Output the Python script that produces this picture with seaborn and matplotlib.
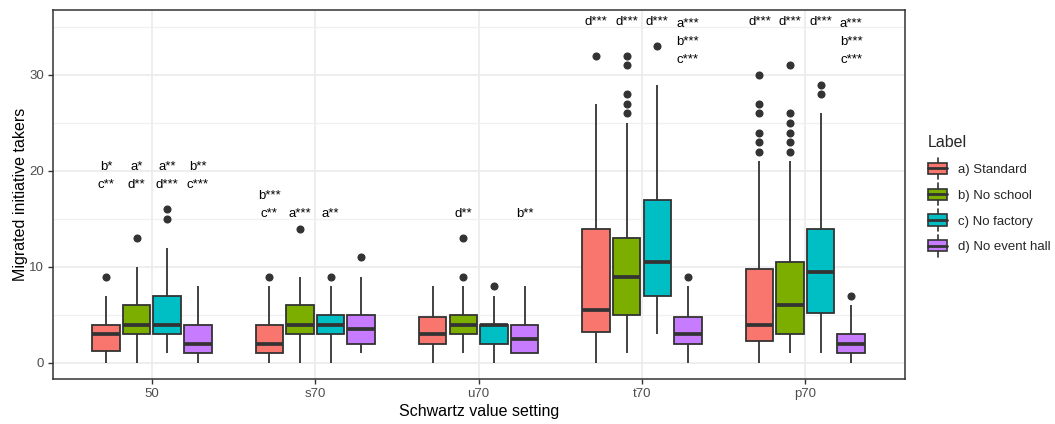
import numpy as np
import pandas as pd
import matplotlib
matplotlib.use("Agg")
import matplotlib.pyplot as plt
import seaborn as sns
from matplotlib.patches import Patch, Rectangle
from matplotlib.lines import Line2D
from matplotlib.legend_handler import HandlerBase
from matplotlib.ticker import MultipleLocator

# --- Data (one row per setting, one column per label) ---
settings = ['50', 's70', 'u70', 't70', 'p70']
labels = ['a) Standard', 'b) No school', 'c) No factory', 'd) No event hall']
colors = ['#F8766D', '#7CAE00', '#00BFC4', '#C77CFF']

whisker_lo = [[0, 0, 1, 0], [0, 0, 0, 1], [0, 1, 0, 1], [0, 1, 3, 0], [0, 1, 1, 0]]
q1 = [[1.25, 3, 3, 1], [1, 3, 3, 2], [2, 3, 2, 1], [3.25, 5, 7, 2], [2.25, 3, 5.25, 1]]
median = [[3, 4, 4, 2], [2, 4, 4, 3.5], [3, 4, 4, 2.5], [5.5, 9, 10.5, 3], [4, 6, 9.5, 2]]
q3 = [[4, 6, 7, 4], [4, 6, 5, 5], [4.75, 5, 4, 4], [14, 13, 17, 4.75], [9.75, 10.5, 14, 3]]
whisker_hi = [[7, 10, 12, 8], [8, 9, 8, 9], [8, 8, 7, 8], [27, 25, 29, 8], [21, 21, 26, 6]]
outliers = [
    [[9], [13], [15, 16], []],
    [[9], [14], [9], [11]],
    [[], [9, 13], [8], []],
    [[32], [26, 27, 28, 31, 32], [33], [9]],
    [[22, 23, 24, 26, 27, 30], [22, 23, 24, 25, 26, 31], [28, 29], [7]],
]

# significance letters printed above each box
sig_text = [
    ['b*\nc**', 'a*\nd**', 'a**\nd***', 'b**\nc***'],
    ['b***\nc**', 'a***', 'a**', ''],
    ['', 'd**', '', 'b**'],
    ['d***', 'd***', 'd***', 'a***\nb***\nc***'],
    ['d***', 'd***', 'd***', 'a***\nb***\nc***'],
]
# y of the lowest text line (data units)
sig_y = [
    [18.55, 18.55, 18.55, 18.55],
    [15.5, 15.5, 15.5, 15.5],
    [15.5, 15.5, 15.5, 15.5],
    [35.5, 35.5, 35.5, 31.55],
    [35.5, 35.5, 35.5, 31.55],
]


def box_sample(lo, a, m, b, hi, out):
    """Smallest sorted sample whose quartiles/whiskers equal the read values."""
    k = len(out) + 1
    return [lo] + [a] * k + [m] * k + [b] * k + [hi] + list(out)


rows = []
for i, s in enumerate(settings):
    for j, lab in enumerate(labels):
        vals = box_sample(whisker_lo[i][j], q1[i][j], median[i][j], q3[i][j],
                          whisker_hi[i][j], outliers[i][j])
        rows += [(s, lab, v) for v in vals]
df = pd.DataFrame(rows, columns=['setting', 'label', 'value'])


class BoxKeyHandler(HandlerBase):
    """ggplot-like legend key: small box with median and whisker."""
    def create_artists(self, legend, orig_handle, xdescent, ydescent,
                       width, height, fontsize, trans):
        x0, y0 = -xdescent, -ydescent
        cx = x0 + width / 2
        edge = '#333333'
        whisk = Line2D([cx, cx], [y0 - 0.45 * height, y0 + 1.45 * height],
                       color=edge, lw=1.2)
        box = Rectangle((x0, y0), width, height, facecolor=orig_handle.get_facecolor(),
                        edgecolor=edge, lw=1.2)
        med = Line2D([x0, x0 + width], [y0 + height / 2] * 2, color=edge, lw=2.0)
        for art in (whisk, box, med):
            art.set_transform(trans)
        return [whisk, box, med]


# --- Plot ---
sns.set_theme(style='white')
plt.rcParams['font.family'] = ['Liberation Sans', 'DejaVu Sans']

fig = plt.figure(figsize=(10.55, 4.24), dpi=100)
ax = fig.add_axes([0.0502, 0.1061, 0.8076, 0.8703])

sns.boxplot(
    data=df, x='setting', y='value', hue='label',
    order=settings, hue_order=labels, palette=colors, saturation=1,
    width=0.75, gap=0.1, linecolor='#333333', linewidth=1.3,
    showcaps=False, legend=False, ax=ax, zorder=3,
    medianprops=dict(linewidth=2.7, color='#333333'),
    flierprops=dict(marker='o', markerfacecolor='#333333', markeredgecolor='#333333',
                    markersize=4.8),
)

# significance annotations
step = 1.875
for i in range(len(settings)):
    for j in range(len(labels)):
        txt = sig_text[i][j]
        if not txt:
            continue
        xpos = i + (j - 1.5) * 0.75 / 4
        for n, line in enumerate(reversed(txt.split('\n'))):
            ax.text(xpos, sig_y[i][j] + n * step, line, ha='center', va='center',
                    fontsize=9.5, color='black', zorder=4)

ax.set_xlim(-0.606, 4.61)
ax.set_ylim(-1.67, 36.77)
ax.yaxis.set_major_locator(MultipleLocator(10))
ax.yaxis.set_minor_locator(MultipleLocator(5))
ax.grid(True, which='major', color='#EBEBEB', linewidth=1.2, zorder=0)
ax.grid(True, which='minor', axis='y', color='#F0F0F0', linewidth=0.9, zorder=0)
ax.set_axisbelow(True)
for sp in ax.spines.values():
    sp.set_visible(True)
    sp.set_color('#333333')
    sp.set_linewidth(1.1)
ax.tick_params(axis='both', which='major', length=3.5, width=1.0, color='#333333',
               labelsize=9.5, labelcolor='#4D4D4D', left=True, bottom=True, pad=3)
ax.tick_params(axis='y', which='minor', length=0)
ax.set_xlabel('Schwartz value setting', fontsize=11.5, color='black', labelpad=3)
ax.set_ylabel('Migrated initiative takers', fontsize=11.5, color='black', labelpad=1)

handles = [Patch(facecolor=c) for c in colors]
leg = ax.legend(handles, labels, title='Label', loc='upper left',
                bbox_to_anchor=(0.868, 0.709), bbox_transform=fig.transFigure,
                frameon=False, fontsize=9.5, title_fontsize=11.5,
                handler_map={Patch: BoxKeyHandler()}, handlelength=1.5,
                handleheight=0.95, handletextpad=0.8, labelspacing=0.95)
leg._legend_box.align = 'left'

fig.savefig('out.png', dpi=100)
